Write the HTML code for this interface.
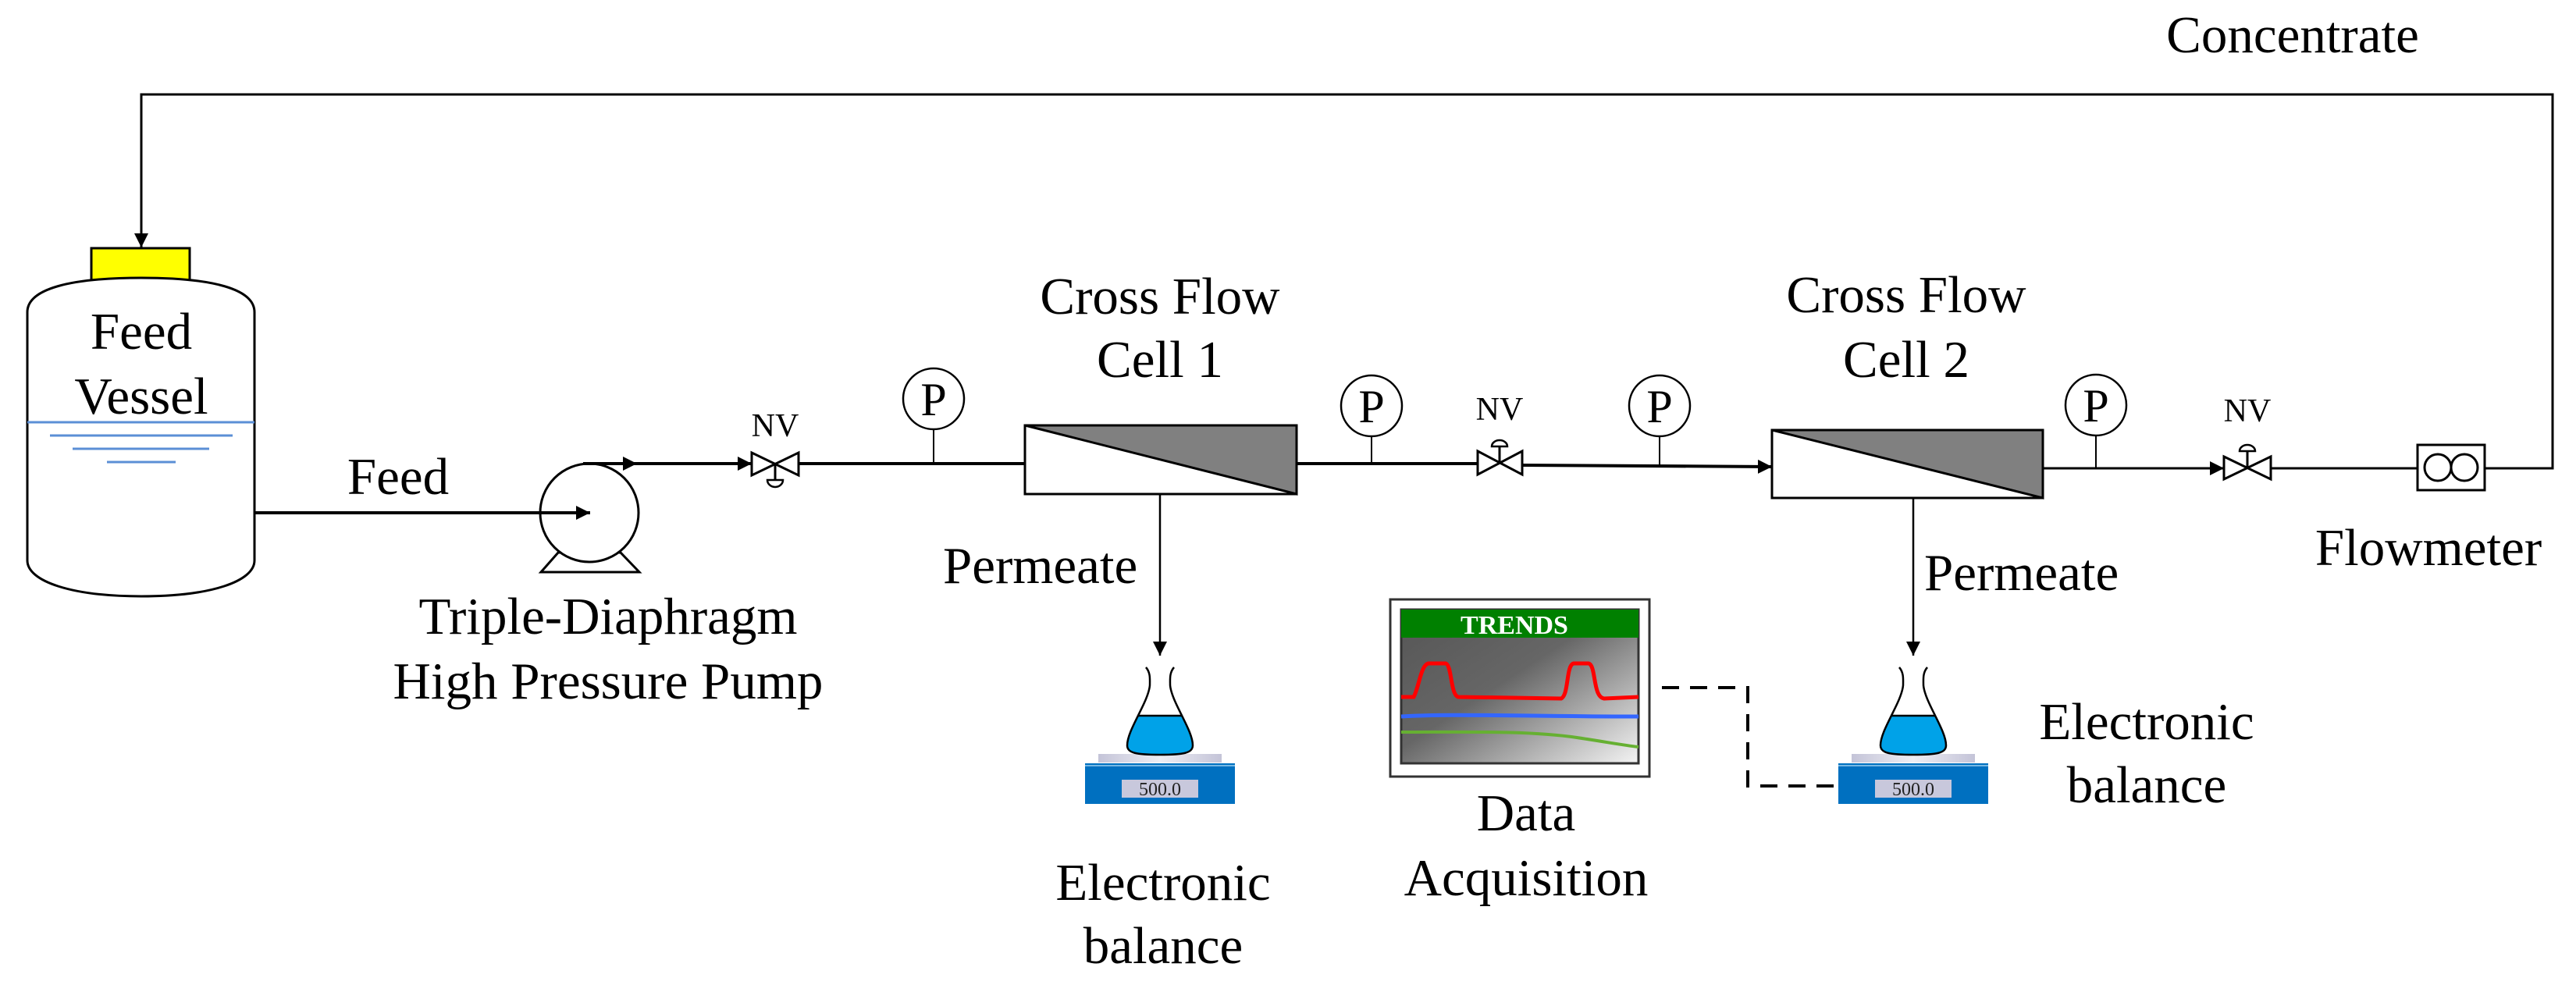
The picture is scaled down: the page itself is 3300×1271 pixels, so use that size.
<!DOCTYPE html>
<html><head><meta charset="utf-8"><style>html,body{margin:0;padding:0;background:#fff}svg{display:block}svg text{font-family:"Liberation Serif","Times New Roman",serif}</style></head>
<body>
<svg width="3300" height="1271" viewBox="0 0 3300 1271" xmlns="http://www.w3.org/2000/svg">
<defs>
<marker id="ar" viewBox="0 0 10 10" refX="10" refY="5" markerWidth="18" markerHeight="18" markerUnits="userSpaceOnUse" orient="auto"><path d="M0,0 L10,5 L0,10 z" fill="#000"/></marker>
<linearGradient id="scr" x1="0" y1="0" x2="1" y2="1"><stop offset="0" stop-color="#555"/><stop offset="0.45" stop-color="#666"/><stop offset="1" stop-color="#f4f4f4"/></linearGradient>
<linearGradient id="plate" x1="0" y1="0" x2="1" y2="0"><stop offset="0" stop-color="#c4c4d8"/><stop offset="0.5" stop-color="#eeeef4"/><stop offset="1" stop-color="#c4c4d8"/></linearGradient>
<g id="bal">
<rect x="-79" y="966" width="158" height="11" fill="url(#plate)"/>
<rect x="-96" y="978" width="192" height="52" fill="#0070c0"/>
<line x1="-96" y1="981" x2="96" y2="981" stroke="#9ccff0" stroke-width="1.5"/>
<rect x="-49" y="999" width="98" height="23" fill="#c8c8dc"/>
<text x="0" y="1019" font-size="24" text-anchor="middle" fill="#222">500.0</text>
<path d="M-29,917 L29,917 C36,932 42,945 42,955 C42,965 30,967 0,967 C-30,967 -42,965 -42,955 C-42,945 -36,932 -29,917 Z" fill="#00a2e8"/>
<path d="M-18,855 C-12,862 -13,870 -13,878 C-15,900 -42,935 -42,955 C-42,965 -30,967 0,967 C30,967 42,965 42,955 C42,935 15,900 13,878 C13,870 12,862 18,855" fill="none" stroke="#000" stroke-width="2.5"/>
<line x1="-29" y1="917" x2="29" y2="917" stroke="#000" stroke-width="2.5"/>
</g>
</defs>

<polyline points="3183,600 3270,600 3270,121 181,121 181,317" fill="none" stroke="#000" stroke-width="3" marker-end="url(#ar)"/>
<text x="2937" y="67" font-size="67" text-anchor="middle">Concentrate</text>

<rect x="117" y="318" width="126" height="42" fill="#ffff00" stroke="#000" stroke-width="3"/>
<path d="M35,400 C35,370 90,356 181,356 C272,356 326,370 326,400 L326,718 C326,745 270,764 181,764 C92,764 35,745 35,718 Z" fill="#fff" stroke="#000" stroke-width="3"/>
<line x1="35" y1="541" x2="326" y2="541" stroke="#5b8fd6" stroke-width="3"/>
<line x1="64" y1="558" x2="298" y2="558" stroke="#5b8fd6" stroke-width="3"/>
<line x1="93" y1="575" x2="268" y2="575" stroke="#5b8fd6" stroke-width="3"/>
<line x1="137" y1="592" x2="225" y2="592" stroke="#5b8fd6" stroke-width="3"/>
<text x="181" y="447" font-size="67" text-anchor="middle">Feed</text>
<text x="181" y="530" font-size="67" text-anchor="middle">Vessel</text>

<path d="M693,733 L819,733 L795,708 L715,708 Z" fill="#fff" stroke="#000" stroke-width="3"/>
<circle cx="755" cy="657" r="63" fill="#fff" stroke="#000" stroke-width="3"/>
<line x1="326" y1="657" x2="756" y2="657" stroke="#000" stroke-width="4" marker-end="url(#ar)"/>
<text x="510" y="633" font-size="67" text-anchor="middle">Feed</text>
<line x1="747" y1="594" x2="816" y2="594" stroke="#000" stroke-width="4" marker-end="url(#ar)"/>
<line x1="814" y1="594" x2="963" y2="594" stroke="#000" stroke-width="4" marker-end="url(#ar)"/>
<text x="779" y="812" font-size="67" text-anchor="middle">Triple-Diaphragm</text>
<text x="779" y="895" font-size="67" text-anchor="middle">High Pressure Pump</text>

<path d="M963,580 L1023,609 L1023,580 L963,609 Z" fill="#fff" stroke="#000" stroke-width="3"/>
<line x1="993" y1="594" x2="993" y2="615" stroke="#000" stroke-width="3"/>
<path d="M983,615 L1003,615 A10,9 0 0 1 983,615 Z" fill="#fff" stroke="#000" stroke-width="2.5"/>
<text x="993" y="559" font-size="42" text-anchor="middle">NV</text>

<line x1="1023" y1="594" x2="1313" y2="594" stroke="#000" stroke-width="4"/>
<line x1="1196" y1="550" x2="1196" y2="594" stroke="#000" stroke-width="2"/>
<ellipse cx="1196" cy="511" rx="39" ry="39" fill="#fff" stroke="#000" stroke-width="2.5"/>
<text x="1196" y="532" font-size="60" text-anchor="middle">P</text>

<rect x="1313" y="545" width="348" height="88" fill="#fff" stroke="#000" stroke-width="3"/>
<path d="M1313,545 L1661,545 L1661,633 Z" fill="#808080" stroke="#000" stroke-width="3"/>
<text x="1486" y="402" font-size="67" text-anchor="middle">Cross Flow</text>
<text x="1486" y="483" font-size="67" text-anchor="middle">Cell 1</text>
<line x1="1486" y1="633" x2="1486" y2="840" stroke="#000" stroke-width="2.5" marker-end="url(#ar)"/>
<text x="1208" y="747" font-size="67">Permeate</text>

<line x1="1661" y1="594" x2="1893" y2="594" stroke="#000" stroke-width="4"/>
<line x1="1757" y1="558" x2="1757" y2="594" stroke="#000" stroke-width="2"/>
<ellipse cx="1757" cy="520" rx="39" ry="39" fill="#fff" stroke="#000" stroke-width="2.5"/>
<text x="1757" y="541" font-size="60" text-anchor="middle">P</text>
<path d="M1893,578 L1950,608 L1950,578 L1893,608 Z" fill="#fff" stroke="#000" stroke-width="3"/>
<line x1="1921" y1="593" x2="1921" y2="572" stroke="#000" stroke-width="3"/>
<path d="M1911,572 L1931,572 A10,8 0 0 0 1911,572 Z" fill="#fff" stroke="#000" stroke-width="2.5"/>
<text x="1921" y="538" font-size="42" text-anchor="middle">NV</text>
<line x1="1950" y1="596" x2="2270" y2="598" stroke="#000" stroke-width="4" marker-end="url(#ar)"/>
<line x1="2126" y1="558" x2="2126" y2="597" stroke="#000" stroke-width="2"/>
<ellipse cx="2126" cy="520" rx="39" ry="39" fill="#fff" stroke="#000" stroke-width="2.5"/>
<text x="2126" y="541" font-size="60" text-anchor="middle">P</text>

<rect x="2270" y="551" width="347" height="87" fill="#fff" stroke="#000" stroke-width="3"/>
<path d="M2270,551 L2617,551 L2617,638 Z" fill="#808080" stroke="#000" stroke-width="3"/>
<text x="2442" y="400" font-size="67" text-anchor="middle">Cross Flow</text>
<text x="2442" y="483" font-size="67" text-anchor="middle">Cell 2</text>
<line x1="2451" y1="638" x2="2451" y2="840" stroke="#000" stroke-width="2.5" marker-end="url(#ar)"/>
<text x="2465" y="756" font-size="67">Permeate</text>

<line x1="2617" y1="600" x2="2849" y2="600" stroke="#000" stroke-width="3" marker-end="url(#ar)"/>
<line x1="2685" y1="558" x2="2685" y2="600" stroke="#000" stroke-width="2"/>
<ellipse cx="2685" cy="519" rx="39" ry="39" fill="#fff" stroke="#000" stroke-width="2.5"/>
<text x="2685" y="540" font-size="60" text-anchor="middle">P</text>
<path d="M2849,585 L2909,614 L2909,585 L2849,614 Z" fill="#fff" stroke="#000" stroke-width="3"/>
<line x1="2879" y1="600" x2="2879" y2="578" stroke="#000" stroke-width="3"/>
<path d="M2869,578 L2889,578 A10,8 0 0 0 2869,578 Z" fill="#fff" stroke="#000" stroke-width="2.5"/>
<text x="2879" y="540" font-size="42" text-anchor="middle">NV</text>
<line x1="2909" y1="600" x2="3097" y2="600" stroke="#000" stroke-width="3"/>
<rect x="3097" y="570" width="86" height="58" fill="#fff" stroke="#000" stroke-width="3"/>
<circle cx="3123" cy="599" r="17" fill="none" stroke="#000" stroke-width="3"/>
<circle cx="3157" cy="599" r="17" fill="none" stroke="#000" stroke-width="3"/>
<text x="3111" y="724" font-size="67" text-anchor="middle">Flowmeter</text>

<use href="#bal" transform="translate(1486,0)"/>
<use href="#bal" transform="translate(2451,0)"/>
<text x="1490" y="1153" font-size="67" text-anchor="middle">Electronic</text>
<text x="1490" y="1234" font-size="67" text-anchor="middle">balance</text>
<text x="2750" y="947" font-size="67" text-anchor="middle">Electronic</text>
<text x="2750" y="1028" font-size="67" text-anchor="middle">balance</text>

<rect x="1781" y="768" width="332" height="227" fill="#fff" stroke="#333" stroke-width="3"/>
<rect x="1795" y="781" width="304" height="197" fill="url(#scr)" stroke="#333" stroke-width="3"/>
<rect x="1795" y="781" width="304" height="36" fill="#008000"/>
<text x="1940" y="812" font-size="34" font-weight="bold" fill="#fff" text-anchor="middle">TRENDS</text>
<path d="M1795,893 L1811,893 C1818,880 1820,852 1830,850 L1852,850 C1860,852 1858,890 1868,893 L2000,895 C2010,890 2006,852 2016,850 L2035,850 C2045,852 2040,893 2055,895 L2099,893" fill="none" stroke="#ff0000" stroke-width="5"/>
<path d="M1795,918 C1860,914 1950,918 2099,918" fill="none" stroke="#3366ff" stroke-width="5"/>
<path d="M1795,938 C1880,938 1960,936 2020,945 C2060,951 2080,955 2099,957" fill="none" stroke="#66b032" stroke-width="4"/>
<text x="1955" y="1064" font-size="67" text-anchor="middle">Data</text>
<text x="1955" y="1147" font-size="67" text-anchor="middle">Acquisition</text>
<polyline points="2129,881 2239,881 2239,1007 2357,1007" fill="none" stroke="#000" stroke-width="4" stroke-dasharray="22,14"/>
</svg>
</body></html>
